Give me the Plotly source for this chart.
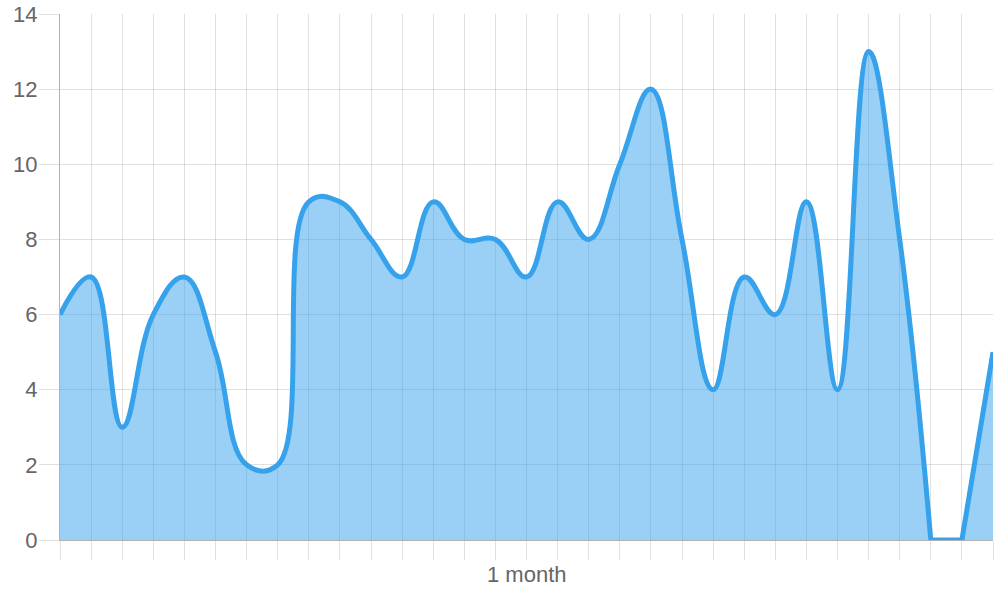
import plotly.graph_objects as go

# Data (one value per day of the month)
days = list(range(1, 32))
values = [6, 7, 3, 6, 7, 5, 2, 2, 9, 9, 8, 7, 9, 8, 8, 7, 9, 8, 10, 12,
          8, 4, 7, 6, 9, 4, 13, 8, 0, 0, 5]
x_title = "1 month"
y_ticks = [0, 2, 4, 6, 8, 10, 12, 14]

LINE = "rgb(54,162,235)"
FILL = "rgba(54,162,235,0.5)"
GRID = "rgba(0,0,0,0.12)"
AXIS = "rgba(0,0,0,0.3)"
FONT = "Liberation Sans, Arial, sans-serif"

# Split where Chart.js keeps the curve capped at zero
split = 28

fig = go.Figure()
fig.add_trace(go.Scatter(
    x=days[:split + 1], y=values[:split + 1],
    mode="lines", line=dict(color=LINE, width=5, shape="spline", smoothing=1.2),
    fill="tozeroy", fillcolor=FILL, hoverinfo="x+y", showlegend=False,
))
fig.add_trace(go.Scatter(
    x=days[split:], y=values[split:],
    mode="lines", line=dict(color=LINE, width=5, shape="linear"),
    fill="tozeroy", fillcolor=FILL, hoverinfo="x+y", showlegend=False,
))

fig.update_layout(
    width=1000, height=600,
    margin=dict(l=60, r=7, t=14, b=60, autoexpand=False),
    paper_bgcolor="white", plot_bgcolor="white",
    font=dict(family=FONT, size=22, color="#666"),
    xaxis=dict(
        range=[days[0], days[-1]], dtick=1, tick0=1,
        showgrid=True, gridcolor=GRID, gridwidth=1,
        ticks="outside", ticklen=19, tickcolor=GRID, tickwidth=1,
        showticklabels=False, zeroline=False, automargin=False,
        showline=True, linecolor=AXIS, linewidth=1,
    ),
    yaxis=dict(
        range=[0, 14], tickvals=y_ticks,
        showgrid=True, gridcolor=GRID, gridwidth=1,
        ticks="outside", ticklen=20, tickcolor=GRID, tickwidth=1,
        tickfont=dict(family=FONT, size=22, color="#666"),
        ticklabelstandoff=-3,
        zeroline=False, showline=True, linecolor=AXIS, linewidth=1,
        automargin=False,
    ),
    annotations=[dict(
        text=x_title, xref="paper", yref="paper", x=0.5, y=-0.065,
        xanchor="center", yanchor="middle", showarrow=False,
        font=dict(family=FONT, size=22, color="#666"),
    )],
)

fig.write_html(
    "out.html",
    config={"displayModeBar": False},
    post_script="document.body.style.margin='0';document.body.style.overflow='hidden';",
)
